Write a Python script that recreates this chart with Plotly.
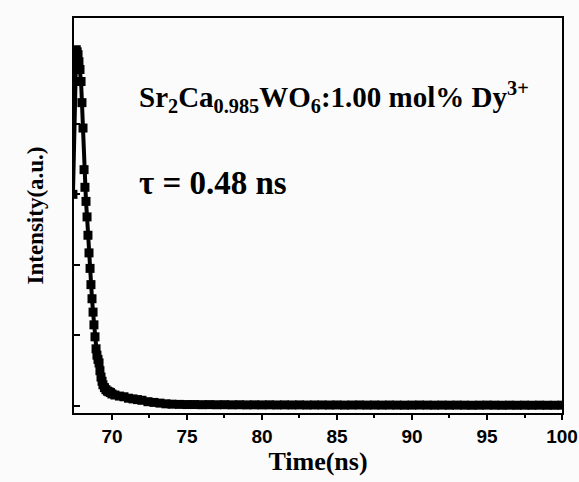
import plotly.graph_objects as go

time_ns = [67.40, 67.62, 67.68, 67.74, 67.80, 67.87, 67.94, 68.00, 68.07, 68.14,
           68.20, 68.27, 68.34, 68.40, 68.47, 68.54, 68.60, 68.67, 68.74, 68.80,
           68.87, 68.94, 69.00, 69.07, 69.14, 69.20, 69.27, 69.34, 69.40, 69.50,
           69.60, 69.70, 69.80, 69.90, 70.00, 70.20, 70.50, 70.80, 71.10, 71.40,
           71.70, 72.00, 72.40, 72.80, 73.20, 73.60, 74.00, 74.50, 75.00, 75.50,
           76.00, 76.50, 77.00, 77.50, 78.00, 78.50, 79.00, 79.50, 80.00, 80.50,
           81.00, 81.50, 82.00, 82.50, 83.00, 83.50, 84.00, 84.50, 85.00, 85.50,
           86.00, 86.50, 87.00, 87.50, 88.00, 88.50, 89.00, 89.50, 90.00, 90.50,
           91.00, 91.50, 92.00, 92.50, 93.00, 93.50, 94.00, 94.50, 95.00, 95.50,
           96.00, 96.50, 97.00, 97.50, 98.00, 98.50, 99.00, 99.50, 100.00]
intensity = [3.00, 5.05, 5.02, 4.98, 4.88, 4.77, 4.60, 4.30, 3.94, 3.35,
             3.10, 2.90, 2.68, 2.42, 2.17, 1.95, 1.72, 1.52, 1.33, 1.15,
             0.98, 0.81, 0.72, 0.66, 0.61, 0.50, 0.41, 0.35, 0.30, 0.26,
             0.23, 0.21, 0.20, 0.19, 0.17, 0.155, 0.14, 0.13, 0.11, 0.10,
             0.09, 0.08, 0.06, 0.05, 0.04, 0.03, 0.025, 0.022, 0.020, 0.020,
             0.018, 0.019, 0.017, 0.018, 0.016, 0.017, 0.015, 0.016, 0.015, 0.016,
             0.014, 0.015, 0.014, 0.015, 0.013, 0.014, 0.014, 0.013, 0.014, 0.012,
             0.013, 0.014, 0.012, 0.013, 0.012, 0.013, 0.012, 0.011, 0.012, 0.013,
             0.012, 0.011, 0.012, 0.011, 0.012, 0.011, 0.010, 0.011, 0.012, 0.011,
             0.010, 0.011, 0.010, 0.011, 0.010, 0.011, 0.010, 0.010, 0.011]

x_ticks = [70, 75, 80, 85, 90, 95, 100]
x_minor = [72.5, 77.5, 82.5, 87.5, 92.5, 97.5]
y_ticks = [0, 1, 2, 3, 4, 5]

fig = go.Figure()
fig.add_trace(go.Scatter(
    x=time_ns, y=intensity, mode="lines+markers",
    line=dict(color="black", width=4),
    marker=dict(symbol="square", size=9, color="black"),
    showlegend=False, cliponaxis=True,
))

serif = "Liberation Serif"
fig.update_layout(
    width=579, height=482,
    margin=dict(l=74, r=17, t=18, b=69),
    paper_bgcolor="#fbfbfb", plot_bgcolor="#fbfbfb",
    xaxis=dict(
        range=[67.47, 100], tickvals=x_ticks, ticks="outside", ticklen=5,
        tickwidth=1.5, tickcolor="black", automargin=False,
        minor=dict(tickvals=x_minor, ticks="outside",
                   ticklen=3, tickwidth=1.5, tickcolor="black"),
        showline=True, linecolor="black", linewidth=2, mirror=True,
        showgrid=False, zeroline=False,
        tickfont=dict(family="Liberation Sans", size=19, color="black", weight="bold"),
        title=dict(text="<b>Time(ns)</b>", font=dict(family=serif, size=26, color="black"),
                   standoff=6),
    ),
    yaxis=dict(
        range=[-0.1, 5.5], tickvals=y_ticks, ticks="inside", ticklen=6,
        tickwidth=1.5, tickcolor="black", showticklabels=False, automargin=False,
        showline=True, linecolor="black", linewidth=2, mirror=True,
        showgrid=False, zeroline=False,
        title=dict(text="<b>Intensity(a.u.)</b>", font=dict(family=serif, size=23, color="black"),
                   standoff=22),
    ),
    annotations=[
        dict(text="<b>Sr<sub>2</sub>Ca<sub>0.985</sub>WO<sub>6</sub>:1.00 mol% Dy<sup>3+</sup></b>",
             xref="paper", yref="paper", x=0.129, y=0.80, xanchor="left", yanchor="middle",
             showarrow=False, font=dict(family=serif, size=29, color="black")),
        dict(text="<b>τ = 0.48 ns</b>",
             xref="paper", yref="paper", x=0.129, y=0.582, xanchor="left", yanchor="middle",
             showarrow=False, font=dict(family=serif, size=33, color="black")),
    ],
)

fig.write_html("out.html")
